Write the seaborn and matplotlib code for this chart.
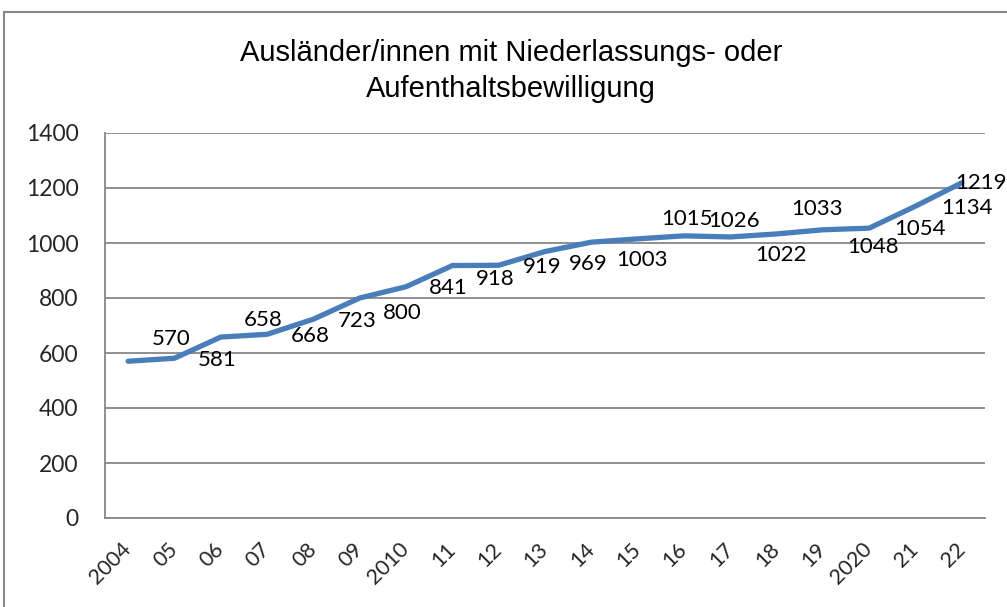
import matplotlib
matplotlib.use("Agg")
import matplotlib.pyplot as plt
import seaborn as sns
import pandas as pd

# data
jahre = ["2004", "05", "06", "07", "08", "09", "2010", "11", "12", "13",
         "14", "15", "16", "17", "18", "19", "2020", "21", "22"]
werte = [570, 581, 658, 668, 723, 800, 841, 918, 919, 969,
         1003, 1015, 1026, 1022, 1033, 1048, 1054, 1134, 1219]

# label placement (pixels, relative to the point the label sits at)
label_dx = [-3, -4, -4, -3, -3, -4, -4, -3, -3, -3, 4, 3, 4, 4, -6, 4, 4, 5, 19]
label_dy = [19, -23, 14, -17, -23, -26, -22, -14, -15, -22, -21, 17, 16, -21, 21, -19, -23, -25, 0]

sns.set_style("white")
plt.rcParams["font.family"] = ["Lato", "DejaVu Sans"]

df = pd.DataFrame({"pos": range(len(jahre)), "wert": werte})

fig = plt.figure(figsize=(10.07, 6.07), dpi=100)
ax = fig.add_axes([105 / 1007, 1 - 518 / 607, 880 / 1007, 385 / 607])

sns.lineplot(data=df, x="pos", y="wert", ax=ax, color="#4A7EBB", linewidth=3.8,
             solid_capstyle="round", solid_joinstyle="round")

grau = "#878787"
ax.set_xlim(-0.5, len(jahre) - 0.5)
ax.set_ylim(0, 1400)
ax.set_yticks(range(0, 1401, 200))
ax.yaxis.grid(True, color=grau, linewidth=1.3)
ax.set_axisbelow(True)
for s in ["top", "right"]:
    ax.spines[s].set_visible(False)
for s in ["left", "bottom"]:
    ax.spines[s].set_color(grau)
    ax.spines[s].set_linewidth(1.3)

ax.set_xticks(range(len(jahre)))
ax.set_xticklabels(jahre, rotation=45, ha="right", va="center",
                   rotation_mode="anchor", fontsize=15.5)
ax.set_xticks([i - 0.5 for i in range(len(jahre) + 1)], minor=True)
ax.tick_params(axis="x", which="major", length=0, pad=20)
ax.tick_params(axis="x", which="minor", length=8, width=1.3, color=grau)
ax.tick_params(axis="y", length=8, width=1.3, color=grau, labelsize=16.5, pad=11)
ax.set_xlabel("")
ax.set_ylabel("")

n = len(werte)
for i, w in enumerate(werte):
    j = min(i + 1, n - 1)
    ax.annotate(str(w), (j, werte[j]), xytext=(label_dx[i], label_dy[i]),
                textcoords="offset pixels", ha="center", va="center",
                fontsize=16, color="black")

titel_font = ["Liberation Sans", "DejaVu Sans"]
fig.text(511 / 1007, 1 - 53 / 607, "Ausländer/innen mit Niederlassungs- oder",
         ha="center", va="center", fontsize=21, family=titel_font, color="black")
fig.text(511 / 1007, 1 - 89 / 607, "Aufenthaltsbewilligung",
         ha="center", va="center", fontsize=21, family=titel_font, color="black")

# chart area border (left and top edges visible)
rahmen = plt.Rectangle((4 / 1007, -0.1), 1.2, 1 - 12 / 607 + 0.1, transform=fig.transFigure,
                       fill=False, edgecolor=grau, linewidth=1.5)
fig.patches.append(rahmen)

fig.savefig("out.png", dpi=100)
